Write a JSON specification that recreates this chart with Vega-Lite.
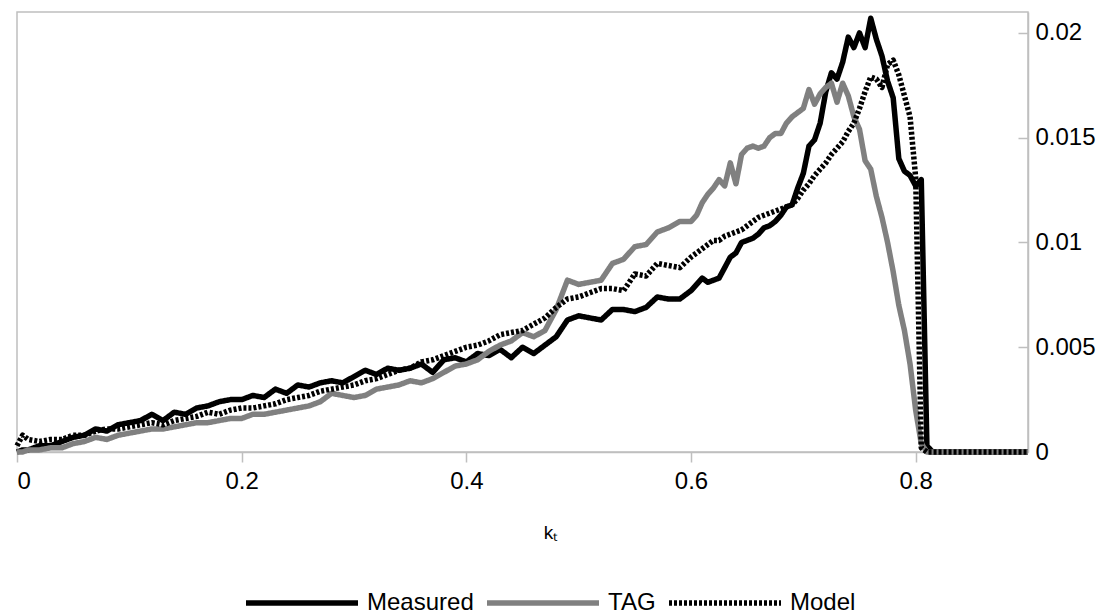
{
  "$schema": "https://vega.github.io/schema/vega-lite/v6.json",
  "autosize": {"type": "none"},
  "padding": {"left": 17, "top": 12, "right": 79, "bottom": 163},
  "width": 1011,
  "height": 440,
  "background": "white",
  "config": {
    "font": "Liberation Sans",
    "view": {"stroke": "#BFBFBF", "strokeWidth": 1.5},
    "axis": {"grid": false, "domainColor": "#BFBFBF", "domainWidth": 1.5, "tickColor": "#BFBFBF", "tickWidth": 1.5, "labelColor": "#000000", "labelFont": "Liberation Sans", "labelFontSize": 24, "titleFont": "Liberation Sans", "titleColor": "#000000", "titleFontWeight": "normal"},
    "legend": {"padding": 0}
  },
  "data": {
    "values": [
      {"k": 0, "Measured": 0.0000, "TAG": 0.0000, "Model": 0.0003},
      {"k": 0.005, "Measured": 0.0001, "TAG": 0.0000, "Model": 0.0008},
      {"k": 0.01, "Measured": 0.0001, "TAG": 0.0001, "Model": 0.0006},
      {"k": 0.02, "Measured": 0.0003, "TAG": 0.0001, "Model": 0.0005},
      {"k": 0.03, "Measured": 0.0003, "TAG": 0.0002, "Model": 0.0006},
      {"k": 0.04, "Measured": 0.0005, "TAG": 0.0002, "Model": 0.0006},
      {"k": 0.05, "Measured": 0.0007, "TAG": 0.0004, "Model": 0.0008},
      {"k": 0.06, "Measured": 0.0008, "TAG": 0.0005, "Model": 0.0008},
      {"k": 0.07, "Measured": 0.0011, "TAG": 0.0007, "Model": 0.0010},
      {"k": 0.08, "Measured": 0.0010, "TAG": 0.0006, "Model": 0.0011},
      {"k": 0.09, "Measured": 0.0013, "TAG": 0.0008, "Model": 0.0011},
      {"k": 0.10, "Measured": 0.0014, "TAG": 0.0009, "Model": 0.0012},
      {"k": 0.11, "Measured": 0.0015, "TAG": 0.0010, "Model": 0.0013},
      {"k": 0.12, "Measured": 0.0018, "TAG": 0.0011, "Model": 0.0014},
      {"k": 0.13, "Measured": 0.0015, "TAG": 0.0011, "Model": 0.0013},
      {"k": 0.14, "Measured": 0.0019, "TAG": 0.0012, "Model": 0.0015},
      {"k": 0.15, "Measured": 0.0018, "TAG": 0.0013, "Model": 0.0016},
      {"k": 0.16, "Measured": 0.0021, "TAG": 0.0014, "Model": 0.0017},
      {"k": 0.17, "Measured": 0.0022, "TAG": 0.0014, "Model": 0.0019},
      {"k": 0.18, "Measured": 0.0024, "TAG": 0.0015, "Model": 0.0018},
      {"k": 0.19, "Measured": 0.0025, "TAG": 0.0016, "Model": 0.0020},
      {"k": 0.20, "Measured": 0.0025, "TAG": 0.0016, "Model": 0.0021},
      {"k": 0.21, "Measured": 0.0027, "TAG": 0.0018, "Model": 0.0021},
      {"k": 0.22, "Measured": 0.0026, "TAG": 0.0018, "Model": 0.0022},
      {"k": 0.23, "Measured": 0.0030, "TAG": 0.0019, "Model": 0.0023},
      {"k": 0.24, "Measured": 0.0028, "TAG": 0.0020, "Model": 0.0025},
      {"k": 0.25, "Measured": 0.0032, "TAG": 0.0021, "Model": 0.0026},
      {"k": 0.26, "Measured": 0.0031, "TAG": 0.0022, "Model": 0.0027},
      {"k": 0.27, "Measured": 0.0033, "TAG": 0.0024, "Model": 0.0029},
      {"k": 0.28, "Measured": 0.0034, "TAG": 0.0028, "Model": 0.0030},
      {"k": 0.29, "Measured": 0.0033, "TAG": 0.0027, "Model": 0.0031},
      {"k": 0.30, "Measured": 0.0036, "TAG": 0.0026, "Model": 0.0032},
      {"k": 0.31, "Measured": 0.0039, "TAG": 0.0027, "Model": 0.0034},
      {"k": 0.32, "Measured": 0.0037, "TAG": 0.0030, "Model": 0.0035},
      {"k": 0.33, "Measured": 0.0040, "TAG": 0.0031, "Model": 0.0037},
      {"k": 0.34, "Measured": 0.0039, "TAG": 0.0032, "Model": 0.0039},
      {"k": 0.35, "Measured": 0.0040, "TAG": 0.0034, "Model": 0.0040},
      {"k": 0.36, "Measured": 0.0042, "TAG": 0.0033, "Model": 0.0043},
      {"k": 0.37, "Measured": 0.0038, "TAG": 0.0035, "Model": 0.0044},
      {"k": 0.38, "Measured": 0.0044, "TAG": 0.0038, "Model": 0.0046},
      {"k": 0.39, "Measured": 0.0045, "TAG": 0.0041, "Model": 0.0048},
      {"k": 0.40, "Measured": 0.0043, "TAG": 0.0042, "Model": 0.0050},
      {"k": 0.41, "Measured": 0.0047, "TAG": 0.0044, "Model": 0.0051},
      {"k": 0.42, "Measured": 0.0046, "TAG": 0.0048, "Model": 0.0053},
      {"k": 0.43, "Measured": 0.0049, "TAG": 0.0051, "Model": 0.0056},
      {"k": 0.44, "Measured": 0.0045, "TAG": 0.0053, "Model": 0.0057},
      {"k": 0.45, "Measured": 0.0050, "TAG": 0.0057, "Model": 0.0058},
      {"k": 0.46, "Measured": 0.0047, "TAG": 0.0055, "Model": 0.0061},
      {"k": 0.47, "Measured": 0.0051, "TAG": 0.0058, "Model": 0.0064},
      {"k": 0.48, "Measured": 0.0055, "TAG": 0.0068, "Model": 0.0069},
      {"k": 0.49, "Measured": 0.0063, "TAG": 0.0082, "Model": 0.0073},
      {"k": 0.50, "Measured": 0.0065, "TAG": 0.0080, "Model": 0.0074},
      {"k": 0.51, "Measured": 0.0064, "TAG": 0.0081, "Model": 0.0076},
      {"k": 0.52, "Measured": 0.0063, "TAG": 0.0082, "Model": 0.0078},
      {"k": 0.53, "Measured": 0.0068, "TAG": 0.0090, "Model": 0.0078},
      {"k": 0.54, "Measured": 0.0068, "TAG": 0.0092, "Model": 0.0077},
      {"k": 0.55, "Measured": 0.0067, "TAG": 0.0098, "Model": 0.0085},
      {"k": 0.56, "Measured": 0.0069, "TAG": 0.0099, "Model": 0.0084},
      {"k": 0.57, "Measured": 0.0074, "TAG": 0.0105, "Model": 0.0090},
      {"k": 0.58, "Measured": 0.0073, "TAG": 0.0107, "Model": 0.0089},
      {"k": 0.59, "Measured": 0.0073, "TAG": 0.0110, "Model": 0.0088},
      {"k": 0.60, "Measured": 0.0077, "TAG": 0.0110, "Model": 0.0093},
      {"k": 0.605, "Measured": 0.0080, "TAG": 0.0113, "Model": 0.0095},
      {"k": 0.61, "Measured": 0.0083, "TAG": 0.0119, "Model": 0.0097},
      {"k": 0.615, "Measured": 0.0081, "TAG": 0.0123, "Model": 0.0099},
      {"k": 0.62, "Measured": 0.0082, "TAG": 0.0126, "Model": 0.0101},
      {"k": 0.625, "Measured": 0.0083, "TAG": 0.0130, "Model": 0.0101},
      {"k": 0.63, "Measured": 0.0088, "TAG": 0.0127, "Model": 0.0103},
      {"k": 0.635, "Measured": 0.0093, "TAG": 0.0138, "Model": 0.0104},
      {"k": 0.64, "Measured": 0.0095, "TAG": 0.0128, "Model": 0.0105},
      {"k": 0.645, "Measured": 0.0100, "TAG": 0.0142, "Model": 0.0106},
      {"k": 0.65, "Measured": 0.0101, "TAG": 0.0145, "Model": 0.0108},
      {"k": 0.655, "Measured": 0.0102, "TAG": 0.0146, "Model": 0.0110},
      {"k": 0.66, "Measured": 0.0104, "TAG": 0.0145, "Model": 0.0112},
      {"k": 0.665, "Measured": 0.0107, "TAG": 0.0146, "Model": 0.0113},
      {"k": 0.67, "Measured": 0.0108, "TAG": 0.0150, "Model": 0.0114},
      {"k": 0.675, "Measured": 0.0110, "TAG": 0.0152, "Model": 0.0115},
      {"k": 0.68, "Measured": 0.0113, "TAG": 0.0152, "Model": 0.0116},
      {"k": 0.685, "Measured": 0.0117, "TAG": 0.0157, "Model": 0.0117},
      {"k": 0.69, "Measured": 0.0118, "TAG": 0.0160, "Model": 0.0118},
      {"k": 0.695, "Measured": 0.0126, "TAG": 0.0162, "Model": 0.0121},
      {"k": 0.70, "Measured": 0.0133, "TAG": 0.0164, "Model": 0.0125},
      {"k": 0.705, "Measured": 0.0146, "TAG": 0.0173, "Model": 0.0128},
      {"k": 0.71, "Measured": 0.0149, "TAG": 0.0166, "Model": 0.0132},
      {"k": 0.715, "Measured": 0.0157, "TAG": 0.0171, "Model": 0.0135},
      {"k": 0.72, "Measured": 0.0172, "TAG": 0.0174, "Model": 0.0138},
      {"k": 0.725, "Measured": 0.0181, "TAG": 0.0176, "Model": 0.0142},
      {"k": 0.73, "Measured": 0.0178, "TAG": 0.0167, "Model": 0.0145},
      {"k": 0.735, "Measured": 0.0186, "TAG": 0.0176, "Model": 0.0148},
      {"k": 0.74, "Measured": 0.0198, "TAG": 0.0170, "Model": 0.0153},
      {"k": 0.745, "Measured": 0.0193, "TAG": 0.0160, "Model": 0.0157},
      {"k": 0.75, "Measured": 0.0200, "TAG": 0.0154, "Model": 0.0164},
      {"k": 0.755, "Measured": 0.0193, "TAG": 0.0139, "Model": 0.0172},
      {"k": 0.76, "Measured": 0.0207, "TAG": 0.0135, "Model": 0.0179},
      {"k": 0.765, "Measured": 0.0197, "TAG": 0.0122, "Model": 0.0178},
      {"k": 0.77, "Measured": 0.0189, "TAG": 0.0112, "Model": 0.0174},
      {"k": 0.775, "Measured": 0.0177, "TAG": 0.0100, "Model": 0.0185},
      {"k": 0.78, "Measured": 0.0169, "TAG": 0.0086, "Model": 0.0187},
      {"k": 0.785, "Measured": 0.0140, "TAG": 0.0070, "Model": 0.0180},
      {"k": 0.79, "Measured": 0.0134, "TAG": 0.0058, "Model": 0.0170},
      {"k": 0.795, "Measured": 0.0132, "TAG": 0.0042, "Model": 0.0160},
      {"k": 0.80, "Measured": 0.0127, "TAG": 0.0020, "Model": 0.0131},
      {"k": 0.805, "Measured": 0.0130, "TAG": 0.0004, "Model": 0.0002},
      {"k": 0.81, "Measured": 0.0003, "TAG": 0.0000, "Model": 0.0000},
      {"k": 0.815, "Measured": 0.0000, "TAG": 0.0000, "Model": 0.0000},
      {"k": 0.9, "Measured": 0.0000, "TAG": 0.0000, "Model": 0.0000}
    ]
  },
  "transform": [
    {"fold": ["Measured", "TAG", "Model"], "as": ["series", "value"]}
  ],
  "mark": {"type": "line", "strokeWidth": 5.5, "strokeJoin": "round", "clip": false},
  "encoding": {
    "x": {
      "field": "k", "type": "quantitative",
      "scale": {"domain": [0, 0.9], "nice": false, "zero": false},
      "axis": {
        "title": "kₜ", "titleFontSize": 19, "titleX": 533, "titleY": 86, "titleAnchor": "start", "titleAlign": "center", "titleBaseline": "alphabetic",
        "values": [0, 0.2, 0.4, 0.6, 0.8], "format": "~g",
        "tickSize": 10, "labelPadding": 7
      }
    },
    "y": {
      "field": "value", "type": "quantitative",
      "scale": {"domain": [0, 0.021], "nice": false},
      "axis": {
        "orient": "right", "title": null,
        "values": [0, 0.005, 0.01, 0.015, 0.02], "format": "~g",
        "tickSize": -10, "labelPadding": 17, "labelAlign": "left"
      }
    },
    "color": {
      "field": "series", "type": "nominal",
      "scale": {"domain": ["Measured", "TAG", "Model"], "range": ["#000000", "#808080", "#000000"]},
      "legend": {
        "title": null, "orient": "none", "direction": "horizontal", "legendX": 226, "legendY": 532,
        "symbolType": "stroke", "symbolSize": 12544, "symbolStrokeWidth": 5.5,
        "labelFontSize": 24, "labelColor": "#000000", "labelOffset": 6, "columnPadding": 2
      }
    },
    "strokeDash": {
      "field": "series", "type": "nominal",
      "scale": {"domain": ["Measured", "TAG", "Model"], "range": [[1, 0], [1, 0], [3, 2]]},
      "legend": {
        "title": null, "orient": "none", "direction": "horizontal", "legendX": 226, "legendY": 532,
        "symbolType": "stroke", "symbolSize": 12544, "symbolStrokeWidth": 5.5,
        "labelFontSize": 24, "labelColor": "#000000", "labelOffset": 6, "columnPadding": 2
      }
    }
  }
}
